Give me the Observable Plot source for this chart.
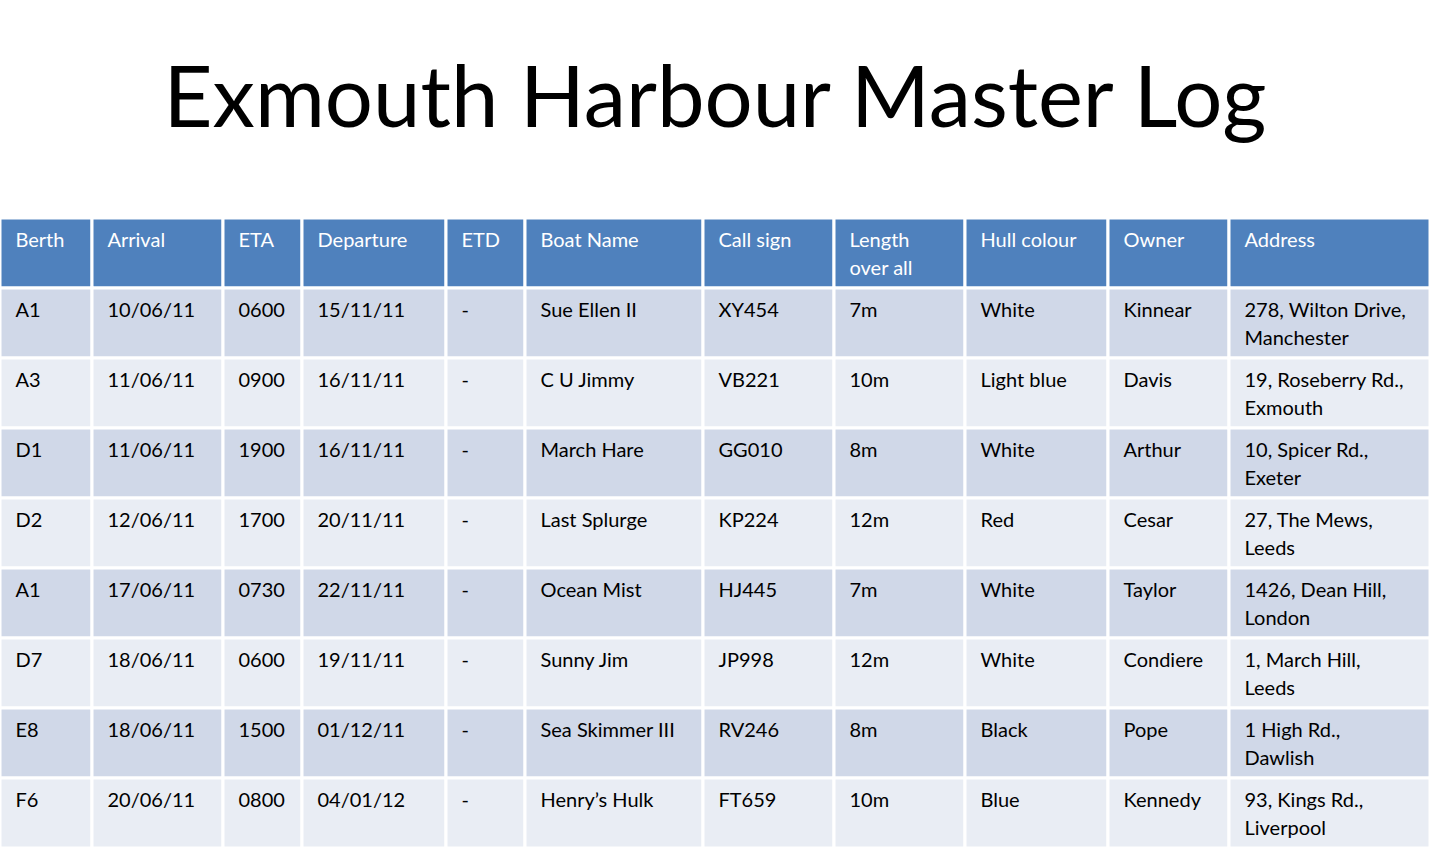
<!DOCTYPE html>
<html>
<head>
<meta charset="utf-8">
<script src="https://cdn.jsdelivr.net/npm/d3@7"></script>
<script src="https://cdn.jsdelivr.net/npm/@observablehq/plot@0.6"></script>
<style>
  body { margin: 0; background: #fff; font-family: Lato, "Open Sans", sans-serif; }
  #title { height: 218px; line-height: 188px; text-align: center; font-size: 85px; color: #000; }
  #chart svg { display: block; }
</style>
</head>
<body>
<div id="title">Exmouth Harbour Master Log</div>
<div id="chart"></div>
<script>
const headers = ["Berth", "Arrival", "ETA", "Departure", "ETD", "Boat Name", "Call sign", "Length\nover all", "Hull colour", "Owner", "Address"];
const berth = ["A1", "A3", "D1", "D2", "A1", "D7", "E8", "F6"];
const arrival = ["10/06/11", "11/06/11", "11/06/11", "12/06/11", "17/06/11", "18/06/11", "18/06/11", "20/06/11"];
const eta = ["0600", "0900", "1900", "1700", "0730", "0600", "1500", "0800"];
const departure = ["15/11/11", "16/11/11", "16/11/11", "20/11/11", "22/11/11", "19/11/11", "01/12/11", "04/01/12"];
const etd = ["-", "-", "-", "-", "-", "-", "-", "-"];
const boatName = ["Sue Ellen II", "C U Jimmy", "March Hare", "Last Splurge", "Ocean Mist", "Sunny Jim", "Sea Skimmer III", "Henry’s Hulk"];
const callSign = ["XY454", "VB221", "GG010", "KP224", "HJ445", "JP998", "RV246", "FT659"];
const length = ["7m", "10m", "8m", "12m", "7m", "12m", "8m", "10m"];
const hull = ["White", "Light blue", "White", "Red", "White", "White", "Black", "Blue"];
const owner = ["Kinnear", "Davis", "Arthur", "Cesar", "Taylor", "Condiere", "Pope", "Kennedy"];
const address = ["278, Wilton Drive,\nManchester", "19, Roseberry Rd.,\nExmouth", "10, Spicer Rd.,\nExeter", "27, The Mews,\nLeeds", "1426, Dean Hill,\nLondon", "1, March Hill,\nLeeds", "1 High Rd.,\nDawlish", "93, Kings Rd.,\nLiverpool"];

const columns = [berth, arrival, eta, departure, etd, boatName, callSign, length, hull, owner, address];

// layout
const colEdges = [0, 92, 223, 302, 446, 525, 703, 834, 965, 1108, 1229, 1430];
const headerH = 70, rowH = 70;

const cells = [];
headers.forEach((h, c) => cells.push({row: -1, col: c, text: h}));
columns.forEach((vals, c) => vals.forEach((v, r) => cells.push({row: r, col: c, text: v})));
cells.forEach(d => {
  d.x1 = colEdges[d.col];
  d.x2 = colEdges[d.col + 1];
  d.y1 = d.row < 0 ? 0 : headerH + d.row * rowH;
  d.y2 = d.y1 + (d.row < 0 ? headerH : rowH);
  d.fill = d.row < 0 ? "#4F81BD" : (d.row % 2 === 0 ? "#D0D8E8" : "#E9EDF4");
});
const totalH = headerH + berth.length * rowH;

const chart = Plot.plot({
  width: 1430,
  height: totalH,
  margin: 0,
  x: {domain: [0, 1430], axis: null},
  y: {domain: [0, totalH], axis: null, reverse: true},
  marks: [
    Plot.rect(cells, {x1: "x1", x2: "x2", y1: "y1", y2: "y2", fill: d => d.fill, stroke: "white", strokeWidth: 3}),
    Plot.text(cells, {
      x: d => d.x1 + 15, y: d => d.y1 + 9, text: "text",
      textAnchor: "start", lineAnchor: "top", lineHeight: 1.4,
      fontSize: 20, fontFamily: "Lato, 'Open Sans', sans-serif",
      fontWeight: d => d.row < 0 ? "bold" : "normal",
      fill: d => d.row < 0 ? "white" : "black"
    })
  ]
});

d3.select('#chart').append(() => chart);
</script>
</body>
</html>
